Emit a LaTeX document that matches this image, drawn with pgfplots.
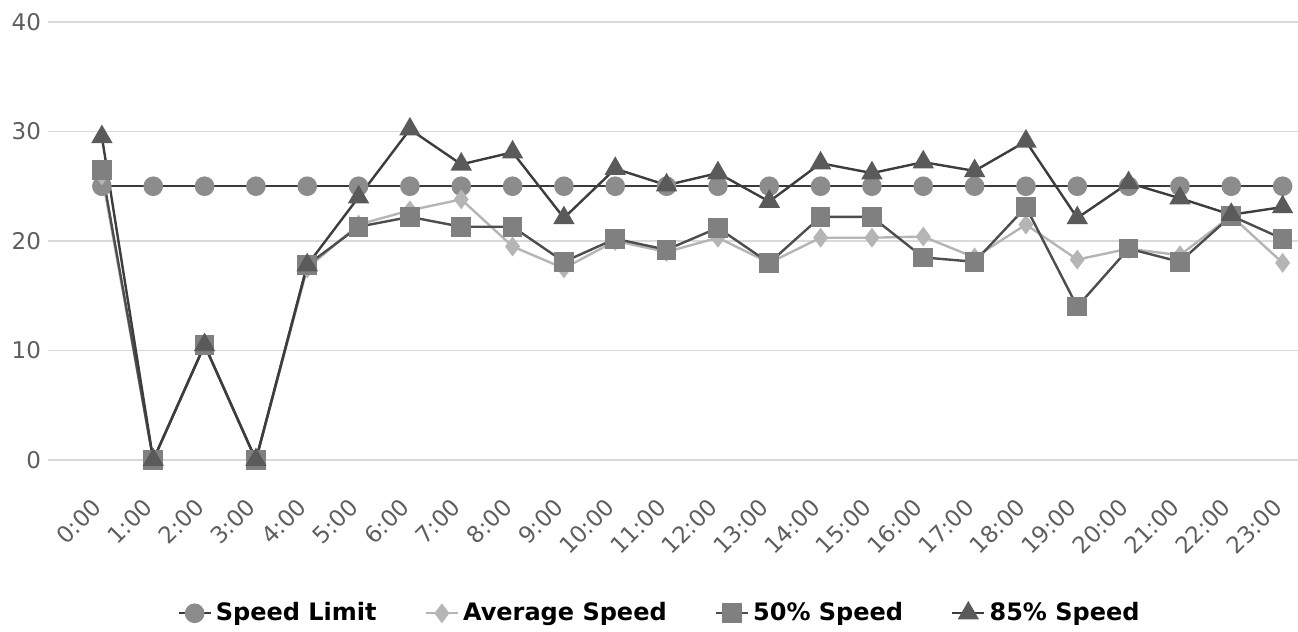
\documentclass[border=0pt]{standalone}
\usepackage{pgfplots}
\pgfplotsset{compat=1.18}
\usepackage{fontspec}
\setmainfont{DejaVu Sans}
\definecolor{slline}{HTML}{3A3A3A}
\definecolor{slmark}{HTML}{8C8C8C}
\definecolor{avg}{HTML}{B5B5B5}
\definecolor{pline}{HTML}{4D4D4D}
\definecolor{pmark}{HTML}{808080}
\definecolor{eline}{HTML}{3D3D3D}
\definecolor{emark}{HTML}{5A5A5A}
\definecolor{tick}{HTML}{5E5E5E}
\begin{document}
\begin{tikzpicture}
\begin{axis}[
  scale only axis,
  width=625pt, height=219pt,
  xmin=-1.05, xmax=23.3,
  ymin=0, ymax=40,
  ytick={0,10,20,30,40},
  xtick={0,...,23},
  xticklabels={0:00,1:00,2:00,3:00,4:00,5:00,6:00,7:00,8:00,9:00,10:00,11:00,12:00,13:00,14:00,15:00,16:00,17:00,18:00,19:00,20:00,21:00,22:00,23:00},
  xticklabel style={rotate=45, anchor=east, font=\fontsize{11.5}{13}\selectfont, text=tick},
  xticklabel shift=19pt,
  yticklabel style={font=\fontsize{11.5}{13}\selectfont, text=tick},
  /pgf/number format/assume math mode=true,
  axis line style={draw=none},
  tick style={draw=none},
  ymajorgrids,
  grid style={draw=black!15, line width=0.6pt},
  clip=false,
  legend columns=4,
  legend style={draw=none, fill=none, at={(0.49,-0.35)}, anchor=center,
    font=\fontsize{12}{14}\selectfont\bfseries,
    /tikz/every even column/.append style={column sep=22pt}},
  legend image code/.code={\draw[mark repeat=2,mark phase=2] plot coordinates {(0pt,0pt) (8pt,0pt) (16pt,0pt)};},
]
\path (rel axis cs:0,0) coordinate (bl);
\path (rel axis cs:1,1) coordinate (tr);
\addplot[color=slline, line width=1.2pt, mark=*, mark size=4.3pt, mark options={draw=slmark, fill=slmark}] coordinates {
(0,25)(1,25)(2,25)(3,25)(4,25)(5,25)(6,25)(7,25)(8,25)(9,25)(10,25)(11,25)(12,25)(13,25)(14,25)(15,25)(16,25)(17,25)(18,25)(19,25)(20,25)(21,25)(22,25)(23,25)};
\addlegendentry{Speed Limit}
\addplot[color=avg, line width=1.2pt, mark=diamond*, mark size=4pt, mark options={draw=avg, fill=avg}] coordinates {
(0,26)(1,0)(2,10.5)(3,0)(4,17.5)(5,21.5)(6,22.8)(7,23.8)(8,19.5)(9,17.5)(10,20)(11,19)(12,20.3)(13,18)(14,20.3)(15,20.3)(16,20.4)(17,18.5)(18,21.5)(19,18.3)(20,19.3)(21,18.7)(22,22.3)(23,18)};
\addlegendentry{Average Speed}
\addplot[color=pline, line width=1.2pt, mark=square*, mark size=4.3pt, mark options={draw=pmark, fill=pmark}] coordinates {
(0,26.5)(1,0)(2,10.5)(3,0)(4,17.8)(5,21.3)(6,22.2)(7,21.3)(8,21.3)(9,18.1)(10,20.2)(11,19.2)(12,21.2)(13,18)(14,22.2)(15,22.2)(16,18.5)(17,18.1)(18,23.1)(19,14)(20,19.3)(21,18.1)(22,22.3)(23,20.2)};
\addlegendentry{50\% Speed}
\addplot[color=eline, line width=1.2pt, mark=triangle*, mark size=5pt, mark options={draw=emark, fill=emark}] coordinates {
(0,29.5)(1,0)(2,10.5)(3,0)(4,17.8)(5,24)(6,30.2)(7,27)(8,28.1)(9,22.1)(10,26.6)(11,25.1)(12,26.2)(13,23.6)(14,27.1)(15,26.2)(16,27.2)(17,26.4)(18,29.1)(19,22.1)(20,25.3)(21,23.9)(22,22.4)(23,23.1)};
\addlegendentry{85\% Speed}
\end{axis}
\pgfresetboundingbox
\path ([xshift=-24pt,yshift=-86pt]bl) rectangle ([yshift=11pt]tr);
\end{tikzpicture}
\end{document}
